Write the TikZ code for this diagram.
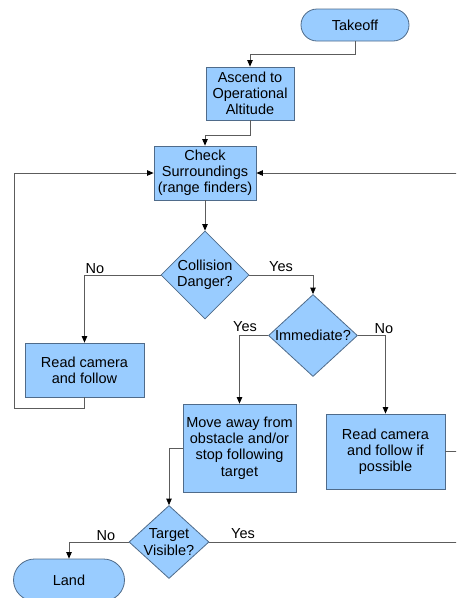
\documentclass[tikz,border=0pt]{standalone}
\usepackage{fontspec}
\setmainfont{Liberation Sans}
\usetikzlibrary{shapes.geometric,shapes.misc,arrows.meta}
\definecolor{boxfill}{HTML}{99CCFF}
\definecolor{boxline}{HTML}{4F6B8A}
\definecolor{wire}{HTML}{5C5C5C}
\begin{document}
\begin{tikzpicture}[x=1pt,y=-1pt,
  every node/.style={font=\fontsize{14.5}{16.2}\selectfont, align=center},
  base/.style={draw=boxline, fill=boxfill, line width=0.8pt, inner sep=0pt},
  process/.style={base, rectangle},
  terminal/.style={base, rounded rectangle},
  decision/.style={base, diamond},
  flow/.style={draw=wire, line width=0.8pt},
  arrow/.style={flow, -{Triangle[length=6.5pt,width=5.5pt,color=black]}},
  tag/.style={inner sep=0pt}]
\useasboundingbox (0,0) rectangle (456,598);
\clip (0,0) rectangle (456,598);

% steps of the mission
\node[terminal, minimum width=108, minimum height=32] (takeoff) at (355,25) {Takeoff};
\node[process, minimum width=88, minimum height=53] (ascend) at (250,93.5) {Ascend to\\Operational\\Altitude};
\node[process, minimum width=102, minimum height=54] (check) at (205,173) {Check\\Surroundings\\(range finders)};
\node[decision, minimum width=88, minimum height=88,
      label={[tag]center:Collision\\Danger?}] (collision) at (205,275) {};
\node[process, minimum width=119, minimum height=54] (read1) at (84.5,370) {Read camera\\and follow};
\node[decision, minimum width=89, minimum height=82,
      label={[tag]center:Immediate?}] (immediate) at (313,335.5) {};
\node[process, minimum width=113, minimum height=88] (move) at (239.5,448) {Move away from\\obstacle and/or\\stop following\\target};
\node[process, minimum width=119, minimum height=75] (read2) at (385.5,451.5) {Read camera\\and follow if\\possible};
\node[decision, minimum width=80, minimum height=73,
      label={[tag]center:Target\\Visible?}] (target) at (169,542) {};
\node[terminal, minimum width=111, minimum height=42] (land) at (69,580) {Land};

% routing points
\coordinate (loopL) at (14,408);
\coordinate (loopR) at (459,542);

% connectors
\draw[arrow] (takeoff.south) -- ++(0,13) -| (ascend.north);
\draw[arrow] (ascend.south) -- ++(0,15) -| (check.north);
\draw[arrow] (check.south) -- (collision.north);
\draw[arrow] (collision.west) -| (read1.north);
\draw[arrow] (collision.east) -| (immediate.north);
\draw[arrow] (immediate.west) -| (move.north);
\draw[arrow] (immediate.east) -| (read2.north);
\draw[arrow] (read1.south) |- (loopL) |- (check.west);
\draw[arrow] (move.west) -| (target.north);
\draw[arrow] (target.west) -| (land.north);
\draw[arrow] (target.east) -- (loopR) |- (check.east);
\draw[flow] (read2.east) -- (read2.east -| loopR);

% branch labels
\node[tag] (noA) at (95,269) {No};
\node[tag] (yesA) at (281,267) {Yes};
\node[tag] (yesB) at (245,327) {Yes};
\node[tag] (noB) at (384,329) {No};
\node[tag] (noC) at (106,536) {No};
\node[tag] (yesC) at (243,534) {Yes};
\end{tikzpicture}
\end{document}
